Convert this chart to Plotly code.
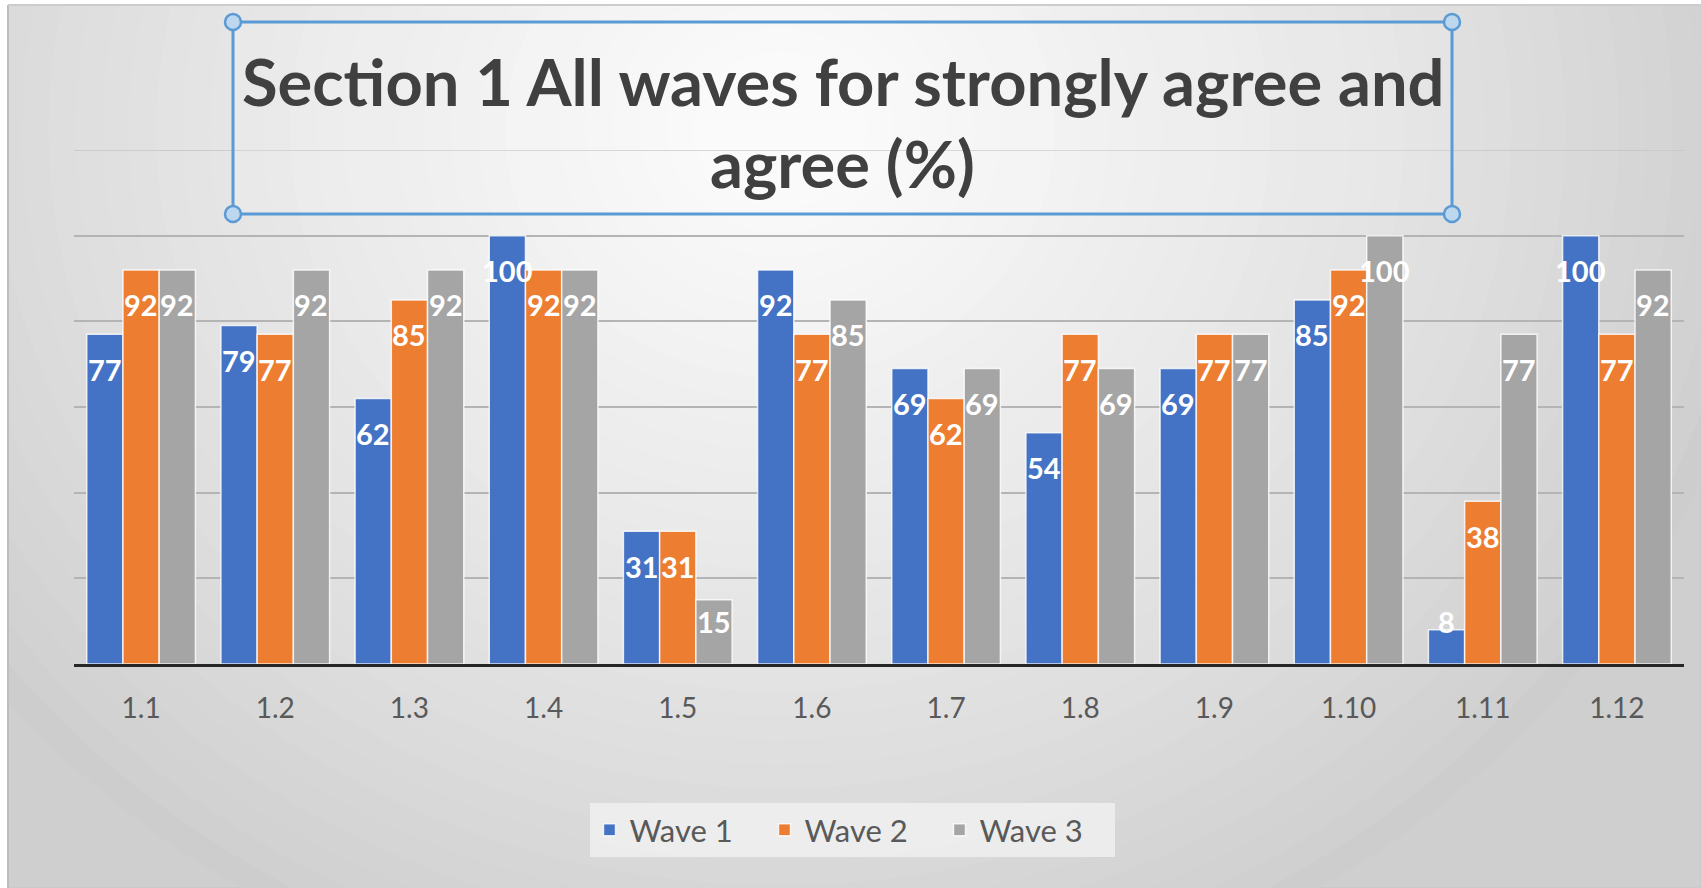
import plotly.graph_objects as go

# ---------------- data ----------------
categories = ["1.1", "1.2", "1.3", "1.4", "1.5", "1.6", "1.7", "1.8", "1.9", "1.10", "1.11", "1.12"]
wave1 = [77, 79, 62, 100, 31, 92, 69, 54, 69, 85, 8, 100]
wave2 = [92, 77, 85, 92, 31, 77, 62, 77, 77, 92, 38, 77]
wave3 = [92, 92, 92, 92, 15, 85, 69, 69, 77, 100, 77, 92]
series_names = ["Wave 1", "Wave 2", "Wave 3"]
title_lines = ["Section 1 All waves for strongly agree and", "agree (%)"]

# ---------------- style ----------------
W, H = 1701, 888
ML, MR, MT, MB = 74, 17, 150, 224
PW, PH = W - ML - MR, H - MT - MB
YMAX = 120
BARGAP = 0.19
colors = ["#4472C4", "#ED7D31", "#A5A5A5"]
FONT = "Lato"


def px(xp):
    """figure pixel x -> paper (plot-area) coordinate"""
    return (xp - ML) / PW


def py(yp):
    """figure pixel y (from top) -> paper (plot-area) coordinate"""
    return (H - MB - yp) / PH


fig = go.Figure()
series = [wave1, wave2, wave3]
for name, vals, col in zip(series_names, series, colors):
    fig.add_trace(go.Bar(
        x=categories, y=vals, name=name,
        marker=dict(color=col, line=dict(color="rgba(255,255,255,0.8)", width=1.5)),
    ))

# data labels (inside end, Excel-like)
ppu = PH / YMAX
annotations = []
n = len(series)
slot = (1 - BARGAP) / n
for k, vals in enumerate(series):
    for i, v in enumerate(vals):
        yc = max(v - 35 / ppu, 43 / ppu)
        annotations.append(dict(
            x=i + (k - (n - 1) / 2) * slot, y=yc, xref="x", yref="y",
            text=str(v), showarrow=False, yanchor="middle", xanchor="center",
            font=dict(family=FONT, size=29, color="white", weight="bold"),
        ))

# title (two lines inside a selected text box)
box_x0, box_x1, box_y0, box_y1 = 233, 1452, 22, 214
cx = px((box_x0 + box_x1) / 2)
for line, ypx in zip(title_lines, [81, 163]):
    annotations.append(dict(
        x=cx, y=py(ypx), xref="paper", yref="paper", text=line,
        showarrow=False, xanchor="center", yanchor="middle",
        font=dict(family=FONT, size=65, color="#404040", weight="bold"),
    ))

shapes = []
# chart area with a radial-ish gradient
shapes.append(dict(type="rect", xref="paper", yref="paper", x0=px(8), x1=px(W), y0=py(H), y1=py(5),
                   fillcolor="#cfcfcf", line=dict(color="#c4c4c4", width=1), layer="below"))
steps = 36
cxp, cyp = 780, 130
rmax = 1000
c_out = (205, 205, 205)
c_in = (250, 250, 250)
for s in range(steps):
    f = s / (steps - 1)
    r = rmax * (1 - f) + 60 * f
    col = tuple(int(round(a + (b - a) * (f ** 0.8))) for a, b in zip(c_out, c_in))
    shapes.append(dict(type="circle", xref="paper", yref="paper",
                       x0=px(cxp - r), x1=px(cxp + r),
                       y0=py(cyp + r * 0.9), y1=py(cyp - r * 0.9),
                       fillcolor="rgb(%d,%d,%d)" % col, line=dict(width=0), layer="below"))
# white page edges left / top
shapes.append(dict(type="rect", xref="paper", yref="paper", x0=px(0), x1=px(8), y0=py(H), y1=py(0),
                   fillcolor="white", line=dict(width=0), layer="below"))
shapes.append(dict(type="rect", xref="paper", yref="paper", x0=px(0), x1=px(W), y0=py(5), y1=py(0),
                   fillcolor="white", line=dict(width=0), layer="below"))
shapes.append(dict(type="line", xref="paper", yref="paper", x0=px(8), x1=px(8), y0=py(H), y1=py(5),
                   line=dict(color="#bdbdbd", width=2), layer="below"))
shapes.append(dict(type="line", xref="paper", yref="paper", x0=px(8), x1=px(W), y0=py(5), y1=py(5),
                   line=dict(color="#cccccc", width=2), layer="below"))
# top gridline at the axis maximum
shapes.append(dict(type="line", xref="paper", yref="y", x0=0, x1=1, y0=YMAX, y1=YMAX,
                   line=dict(color="#c4c4c4", width=1.5), layer="below"))
# title box
shapes.append(dict(type="rect", xref="paper", yref="paper",
                   x0=px(box_x0), x1=px(box_x1), y0=py(box_y1), y1=py(box_y0),
                   fillcolor="rgba(255,255,255,0.15)", line=dict(color="#5B9BD5", width=3), layer="above"))
for hx in (box_x0, box_x1):
    for hy in (box_y0, box_y1):
        rr = 8
        shapes.append(dict(type="circle", xref="paper", yref="paper",
                           x0=px(hx - rr), x1=px(hx + rr), y0=py(hy + rr), y1=py(hy - rr),
                           fillcolor="#BDD7EE", line=dict(color="#5B9BD5", width=2.5), layer="above"))

fig.update_layout(
    width=W, height=H,
    margin=dict(l=ML, r=MR, t=MT, b=MB, pad=0),
    paper_bgcolor="white", plot_bgcolor="rgba(0,0,0,0)",
    barmode="group", bargap=BARGAP, bargroupgap=0,
    font=dict(family=FONT, color="#595959"),
    showlegend=True,
    legend=dict(orientation="h", x=px((583 + 1121) / 2), xanchor="center", y=py(830), yanchor="middle",
                bgcolor="rgba(238,238,238,0.9)", font=dict(size=31, color="#595959", family=FONT),
                entrywidth=130, itemwidth=30, borderwidth=0),
    annotations=annotations,
    shapes=shapes,
    xaxis=dict(type="category", showline=True, linecolor="#262626", linewidth=3,
               showgrid=False, ticks="", tickfont=dict(size=28, color="#595959", family=FONT),
               ticklabelstandoff=17, zeroline=False),
    yaxis=dict(range=[0, YMAX], dtick=20, showgrid=True, gridcolor="#b4b4b4", gridwidth=1.5,
               showticklabels=False, zeroline=False, showline=False, ticks=""),
)

fig.write_html("out.html")
